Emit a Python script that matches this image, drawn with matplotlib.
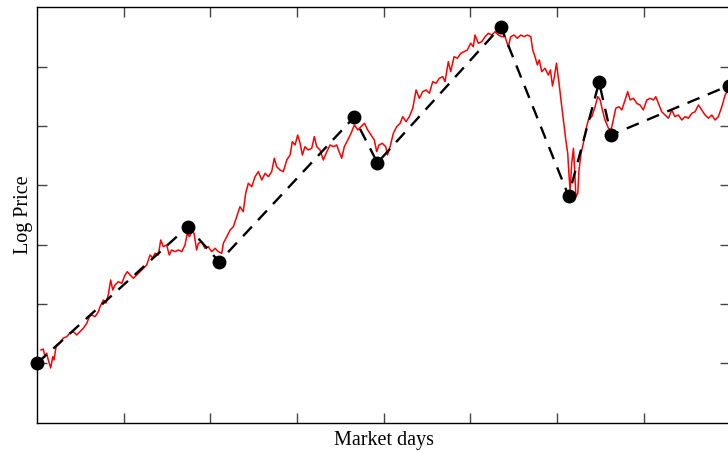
import numpy as np
from matplotlib import pyplot as plt

# log price path (day, value)
days = [23, 36, 46, 56, 65, 79, 91, 98, 110, 133, 152, 171, 190, 209, 229, 248, 267, 287, 302, 316,
        335, 354, 364, 383, 398, 411, 425, 437, 450, 469, 489, 508, 521, 537, 556, 575, 594, 613, 633, 652,
        668, 681, 700, 714, 729, 748, 763, 777, 796, 815, 835, 854, 867, 879, 893, 906, 921, 931, 950, 969,
        988, 1008, 1027, 1046, 1066, 1075, 1095, 1114, 1133, 1152, 1171, 1190, 1204, 1219, 1239, 1258, 1277, 1297, 1316, 1335,
        1354, 1369, 1383, 1402, 1421, 1441, 1460, 1473, 1489, 1504, 1518, 1531, 1546, 1565, 1585, 1600, 1614, 1633, 1652, 1672,
        1691, 1710, 1729, 1743, 1758, 1773, 1793, 1812, 1831, 1851, 1869, 1889, 1908, 1927, 1946, 1960, 1973, 1992, 2012, 2022,
        2037, 2056, 2075, 2095, 2110, 2129, 2148, 2168, 2187, 2206, 2225, 2245, 2264, 2283, 2302, 2321, 2341, 2354, 2373, 2387,
        2406, 2425, 2445, 2464, 2483, 2502, 2517, 2527, 2546, 2566, 2585, 2604, 2624, 2643, 2662, 2681, 2700, 2719, 2733, 2752,
        2771, 2791, 2810, 2829, 2849, 2860, 2873, 2887, 2898, 2912, 2931, 2950, 2962, 2974, 2985, 2997, 3012, 3023, 3037, 3051,
        3062, 3070, 3076, 3085, 3095, 3102, 3109, 3120, 3127, 3139, 3152, 3166, 3181, 3201, 3220, 3235, 3249, 3262, 3277, 3297,
        3312, 3325, 3339, 3358, 3374, 3393, 3408, 3422, 3441, 3460, 3479, 3498, 3518, 3537, 3556, 3570, 3585, 3604, 3624, 3643,
        3662, 3681, 3700, 3720, 3739, 3758, 3778, 3797, 3816, 3835, 3854, 3874, 3893, 3912, 3931, 3951, 3970, 3987, 4000]
log_price = [1.225, 1.242, 1.112, 1.170, 1.057, 0.922, 1.112, 1.057, 1.281, 1.343, 1.427, 1.449, 1.512, 1.534, 1.478, 1.534, 1.591, 1.675, 1.786, 1.815,
             1.786, 1.871, 1.955, 2.068, 2.017, 2.152, 2.405, 2.236, 2.320, 2.376, 2.349, 2.489, 2.545, 2.489, 2.433, 2.489, 2.545, 2.602, 2.658, 2.826,
             2.776, 2.855, 2.826, 3.079, 2.966, 2.995, 2.826, 2.910, 2.882, 2.910, 2.882, 2.995, 3.192, 3.134, 3.219, 3.192, 2.910, 3.023, 3.050, 2.939,
             2.966, 2.882, 2.939, 2.882, 2.855, 3.023, 3.134, 3.247, 3.303, 3.471, 3.640, 3.556, 3.866, 4.034, 3.977, 4.146, 4.230, 4.090, 4.203, 4.146,
             4.230, 4.456, 4.314, 4.258, 4.230, 4.427, 4.511, 4.735, 4.680, 4.848, 4.708, 4.511, 4.651, 4.596, 4.624, 4.820, 4.651, 4.596, 4.427, 4.567,
             4.680, 4.651, 4.680, 4.567, 4.456, 4.651, 4.764, 4.877, 5.017, 4.933, 4.988, 5.045, 4.933, 4.848, 4.764, 4.567, 4.680, 4.708, 4.651, 4.511,
             4.651, 4.877, 4.988, 5.045, 5.157, 5.072, 5.157, 5.298, 5.607, 5.467, 5.578, 5.607, 5.551, 5.747, 5.720, 5.804, 5.831, 5.747, 6.084, 5.915,
             6.168, 6.141, 6.225, 6.252, 6.281, 6.394, 6.336, 6.533, 6.394, 6.421, 6.505, 6.562, 6.533, 6.589, 6.533, 6.505, 6.505, 6.336, 6.505, 6.533,
             6.478, 6.533, 6.505, 6.533, 6.505, 6.281, 6.168, 6.028, 6.112, 5.915, 5.972, 5.859, 5.944, 5.674, 5.831, 6.057, 5.720, 5.438, 5.101, 4.764,
             4.540, 4.146, 3.921, 4.371, 4.624, 4.258, 3.809, 3.866, 4.258, 4.540, 4.708, 4.933, 5.101, 5.157, 5.325, 5.494, 5.438, 5.270, 5.101, 4.961,
             4.933, 5.101, 5.298, 5.325, 5.270, 5.438, 5.578, 5.438, 5.467, 5.382, 5.354, 5.270, 5.438, 5.467, 5.438, 5.494, 5.382, 5.241, 5.185, 5.130,
             5.270, 5.157, 5.185, 5.101, 5.157, 5.130, 5.214, 5.241, 5.354, 5.270, 5.185, 5.130, 5.185, 5.101, 5.157, 5.325, 5.522, 5.607, 5.657]

# turning points of the piecewise trend
turn_days = [0, 870, 1051, 1829, 1964, 2676, 3067, 3243, 3312, 3993]
turn_price = [1.001, 3.303, 2.713, 5.147, 4.381, 6.673, 3.820, 5.736, 4.848, 5.682]

plt.rcParams['font.family'] = ['Liberation Serif', 'DejaVu Serif']

fig = plt.figure(figsize=(7.28, 4.51), dpi=100)
ax = fig.add_axes([37/728, 28.3/451, 693.3/728, 415.4/451])

ax.plot(days, log_price, c='r', lw=1.1, zorder=2)
ax.plot(turn_days, turn_price, '--', c='k', lw=1.7, dashes=(5.5, 3.8), zorder=3, clip_on=False)
ax.plot(turn_days, turn_price, 'o', c='k', ms=9, zorder=4, clip_on=False)

ax.set_xlim(0, 4000)
ax.set_ylim(0, 7)
ax.set_xticks(np.arange(500, 4000, 500))
ax.set_yticks(np.arange(1, 7))
ax.tick_params(direction='in', length=7.5, width=1, color='#444444',
               top=True, right=True, labelbottom=False, labelleft=False)
for s in ax.spines.values():
    s.set_linewidth(1.0)

ax.set_xlabel('Market days', fontsize=14.5)
ax.set_ylabel('Log Price', fontsize=14.5)
ax.xaxis.set_label_coords(0.5, -0.021)
ax.yaxis.set_label_coords(-0.006, 0.5)

plt.savefig('out.png', dpi=100)
